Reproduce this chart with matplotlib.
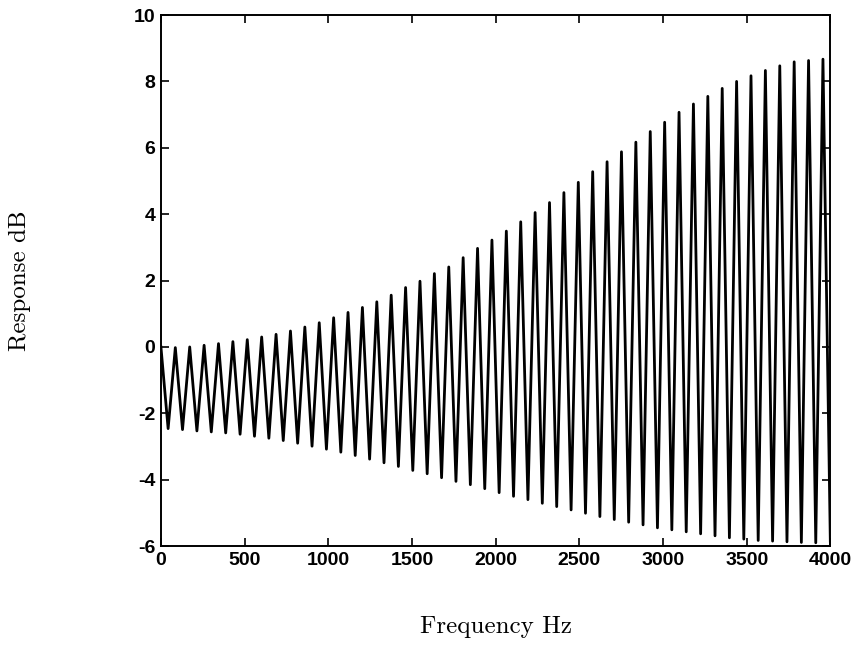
import matplotlib
matplotlib.use('Agg')
import matplotlib.pyplot as plt

# peak / trough readings of the comb response (Hz, dB)
peak_hz = [0, 86, 172, 258, 344, 430, 516, 602, 688, 774,
           860, 946, 1032, 1118, 1204, 1290, 1376, 1462, 1548, 1634,
           1720, 1806, 1892, 1978, 2064, 2150, 2236, 2322, 2408, 2494,
           2580, 2666, 2752, 2838, 2924, 3010, 3096, 3182, 3268, 3354,
           3440, 3526, 3612, 3698, 3784, 3870, 3956]
peak_db = [0.0, -0.02, 0.0, 0.05, 0.1, 0.16, 0.22, 0.3, 0.38, 0.48,
           0.6, 0.73, 0.88, 1.04, 1.19, 1.36, 1.56, 1.79, 1.98, 2.21,
           2.41, 2.69, 2.97, 3.22, 3.49, 3.77, 4.05, 4.35, 4.65, 4.96,
           5.28, 5.58, 5.88, 6.17, 6.49, 6.77, 7.07, 7.32, 7.55, 7.79,
           8.0, 8.17, 8.33, 8.47, 8.59, 8.63, 8.67]

trough_hz = [43, 129, 215, 301, 387, 473, 559, 645, 731, 817,
             903, 989, 1075, 1161, 1247, 1333, 1419, 1505, 1591, 1677,
             1763, 1849, 1935, 2021, 2107, 2193, 2279, 2365, 2451, 2537,
             2623, 2709, 2795, 2881, 2967, 3053, 3139, 3225, 3311, 3397,
             3483, 3569, 3655, 3741, 3827, 3913, 4000]
trough_db = [-2.46, -2.49, -2.53, -2.56, -2.59, -2.63, -2.69, -2.75, -2.82, -2.9,
             -2.99, -3.08, -3.17, -3.27, -3.38, -3.49, -3.6, -3.72, -3.82, -3.94,
             -4.05, -4.15, -4.27, -4.39, -4.5, -4.6, -4.71, -4.81, -4.91, -5.01,
             -5.11, -5.2, -5.28, -5.36, -5.45, -5.51, -5.57, -5.63, -5.69, -5.75,
             -5.79, -5.83, -5.85, -5.87, -5.89, -5.9, -5.85]

x_ticks = [0, 500, 1000, 1500, 2000, 2500, 3000, 3500, 4000]
y_ticks = [-6, -4, -2, 0, 2, 4, 6, 8, 10]

plt.rcParams['axes.unicode_minus'] = False

# interleave peaks and troughs into one trace
freq = []
resp = []
for i in range(len(peak_hz)):
    freq.append(peak_hz[i])
    resp.append(peak_db[i])
    freq.append(trough_hz[i])
    resp.append(trough_db[i])

fig = plt.figure(figsize=(8.56, 6.54), dpi=100)
ax = fig.add_axes([0.188, 0.165, 0.782, 0.812])

ax.plot(freq, resp, color='black', linewidth=2.0, solid_joinstyle='round')

ax.set_xlim(0, 4000)
ax.set_ylim(-6, 10)
ax.set_xticks(x_ticks)
ax.set_yticks(y_ticks)
ax.tick_params(direction='in', length=6, width=1.2, top=True, right=True,
               labelsize=14, pad=4)
for lab in ax.get_xticklabels() + ax.get_yticklabels():
    lab.set_fontfamily('Liberation Sans')
    lab.set_fontweight('bold')
for sp in ax.spines.values():
    sp.set_linewidth(1.4)

ax.set_xlabel('Frequency Hz', fontfamily='cmr10', fontsize=18, va='center')
ax.set_ylabel('Response dB', fontfamily='cmr10', fontsize=18, va='center')
ax.xaxis.set_label_coords(0.5, -0.152)
ax.yaxis.set_label_coords(-0.211, 0.5)

fig.savefig('out.png', dpi=100)
plt.close(fig)
